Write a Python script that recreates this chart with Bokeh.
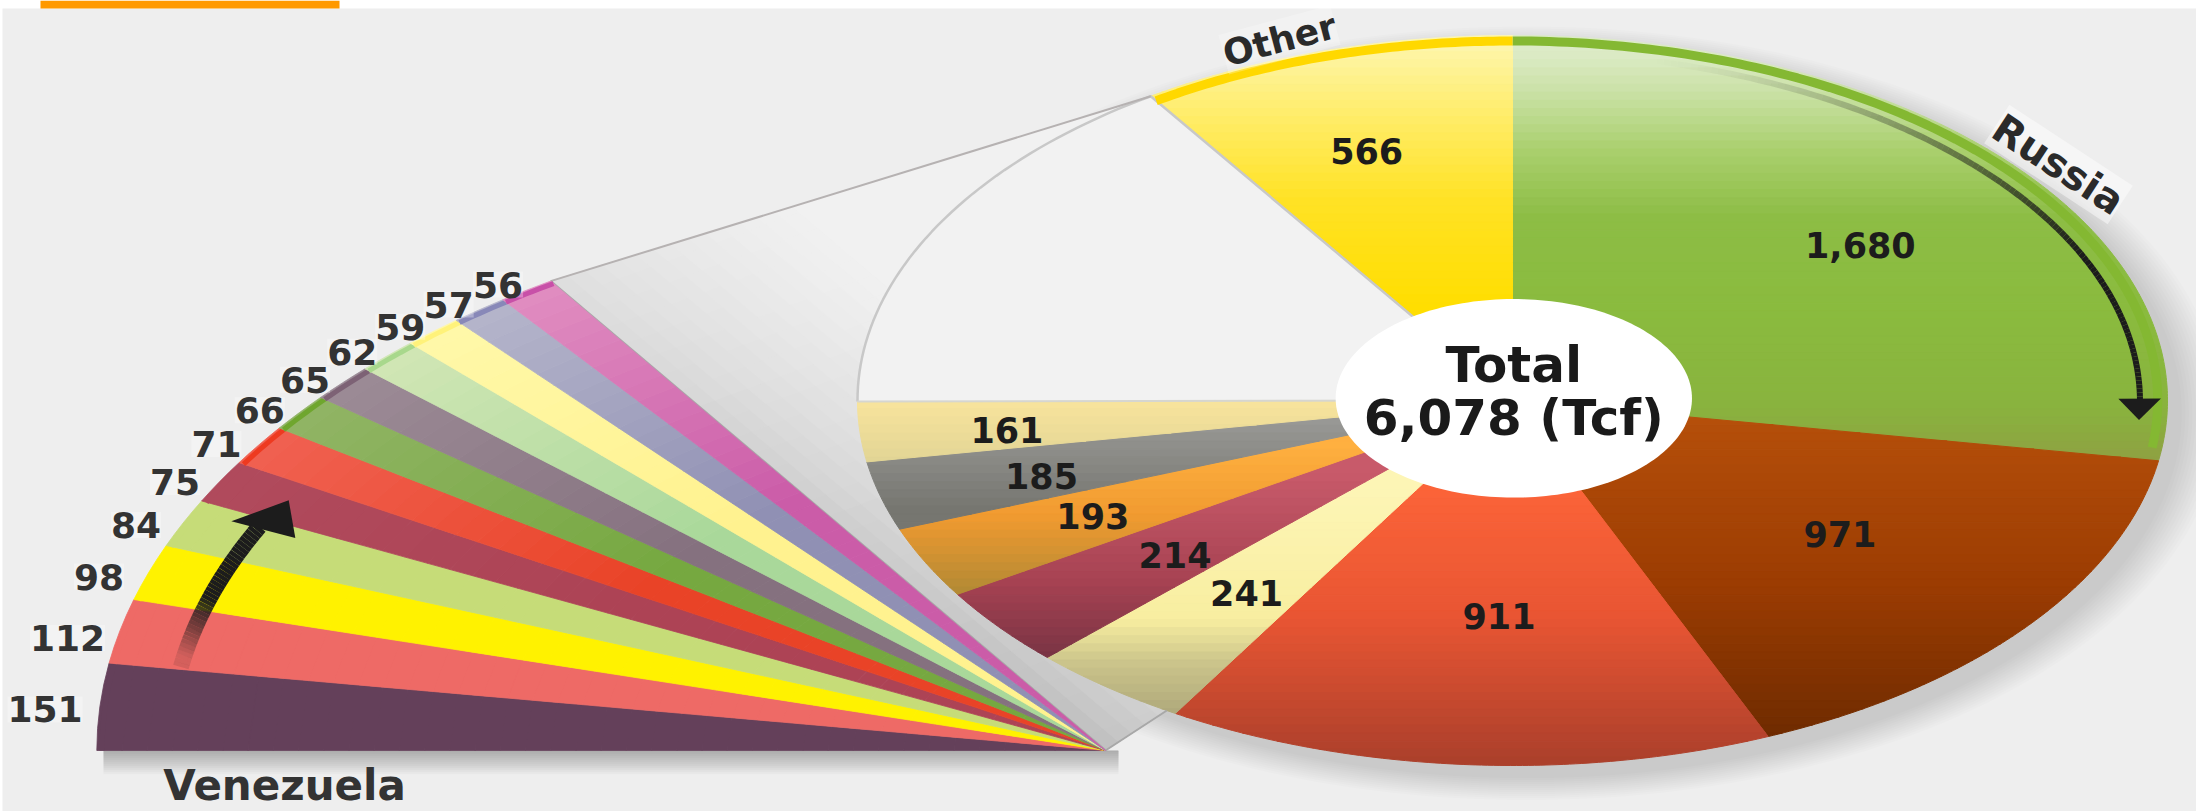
import numpy as np
from bokeh.plotting import figure
from bokeh.models import Range1d
from bokeh.core.properties import value
from bokeh.embed import file_html
from bokeh.resources import INLINE

# ---- data -------------------------------------------------------------
pie_names = ["Russia", "Iran", "Qatar", "Saudi Arabia", "UAE", "USA", "Nigeria", "Algeria", "Next twelve", "Other"]
pie_values = [1680, 971, 911, 241, 214, 193, 185, 161, 956, 566]
fan_values = [151, 112, 98, 84, 75, 71, 66, 65, 62, 59, 57, 56]
total_label = ["Total", "6,078 (Tcf)"]

# ---- styles -----------------------------------------------------------
pie_stops = [
    [(0.95, "#dcebc6"), (0.85, "#cbe2a8"), (0.68, "#a9cf6c"), (0.5, "#8dbd45"), (0.25, "#8abb3e"), (-0.02, "#89b33e"), (-0.18, "#8f9f42")],
    [(-0.05, "#b54f0a"), (-0.5, "#9c3c02"), (-0.95, "#6c2a00")],
    [(-0.25, "#fb6338"), (-0.6, "#e85533"), (-1.0, "#aa3f2b")],
    [(-0.25, "#fdf5b5"), (-0.6, "#f8eea0"), (-0.72, "#cbc48b"), (-0.88, "#aba578")],
    [(-0.2, "#c85a6a"), (-0.5, "#a64252"), (-0.7, "#7a3444")],
    [(-0.12, "#ffb040"), (-0.32, "#f09a30"), (-0.52, "#b48a34")],
    [(-0.05, "#999996"), (-0.3, "#767670")],
    [(0.0, "#f9e49c"), (-0.18, "#e0d494")],
    None,
    [(1.0, "#fdf6b4"), (0.8, "#ffee70"), (0.55, "#ffe225"), (0.25, "#ffde00")],
]
pie_label_r = [0.68, 0.62, 0.59, 0.665, 0.667, 0.715, 0.748, 0.776, None, 0.718]
pie_label_da = [1.6, -2.0, -2.0, -0.5, -1.0, 0.0, -0.8, -1.0, 0.0, -1.3]
fan_base = ["#64405a", "#ee6a66", "#fff200", "#c6dc78", "#ad4355", "#e94327",
            "#76a840", "#85717f", "#a9d89a", "#fff28f", "#9090b4", "#cb5ca8"]
fan_outer = ["#64405a", "#ee6a66", "#fff200", "#c6dc78", "#b04a5c", "#f06050",
             "#90b464", "#9b8a95", "#d0e6b4", "#fff8a8", "#b4b4ca", "#e08cc0"]
fan_rim = ["#64405a", "#ee6a66", "#fff200", "#c6dc78", "#b04a5c", "#ee3a20",
           "#6fa62e", "#7d6275", "#a8d88c", "#fff27a", "#8888b8", "#c850a8"]
BG = "#eeeeee"
FONT = value("DejaVu Sans")

# ---- geometry helpers ---------------------------------------------------
W, H = 2196, 811
CX, CY, RX, RY = 1512.0, 400.0, 655.0, 365.0
TOTAL = sum(pie_values)
APEX = ((1105 - CX) / RX, (CY - 750) / RY)
FAN_R = 1.54


def hex2rgb(c):
    return np.array([int(c[i:i + 2], 16) for i in (1, 3, 5)], float)


def mix(a, b, t):
    m = hex2rgb(a) * (1 - t) + hex2rgb(b) * t
    return "#%02x%02x%02x" % tuple(int(round(v)) for v in m)


def grad(stops, y):
    if y >= stops[0][0]:
        return stops[0][1]
    for (y0, c0), (y1, c1) in zip(stops, stops[1:]):
        if y >= y1:
            return mix(c0, c1, (y0 - y) / (y0 - y1))
    return stops[-1][1]


def pt(deg, r=1.0):
    a = np.radians(deg)
    return r * np.sin(a), r * np.cos(a)


def fan_pt(deg, r):
    a = np.radians(deg)
    return APEX[0] - r * np.cos(a), APEX[1] + r * np.sin(a)


def clip(poly, nx, ny, d):
    """keep the part of poly where nx*x+ny*y >= d"""
    out = []
    n = len(poly)
    for i in range(n):
        p, q = poly[i], poly[(i + 1) % n]
        dp = nx * p[0] + ny * p[1] - d
        dq = nx * q[0] + ny * q[1] - d
        if dp >= 0:
            out.append(p)
        if dp * dq < 0:
            t = dp / (dp - dq)
            out.append((p[0] + t * (q[0] - p[0]), p[1] + t * (q[1] - p[1])))
    return out


p = figure(width=W, height=H, output_backend="svg", toolbar_location=None,
           x_range=Range1d(-CX / RX, (W - CX) / RX), y_range=Range1d((CY - H) / RY, CY / RY),
           min_border=0, margin=(0, 0, 0, 0), background_fill_color="white",
           border_fill_color="white", outline_line_color=None)
p.axis.visible = False
p.grid.visible = False

xl, xr = -CX / RX, (W - CX) / RX
yt, yb = CY / RY, (CY - H) / RY
# page background and the orange tab above it
p.quad(left=[xl + 2 / RX], right=[xr], top=[CY / RY - 8 / RY], bottom=[yb], color=BG, line_color=None)
p.quad(left=[xl + 40 / RX], right=[xl + 339 / RX], top=[yt], bottom=[yt - 8 / RY], color="#ff9900", line_color=None)

# cumulated angles
cum = np.concatenate([[0], np.cumsum(pie_values)]) * 360.0 / TOTAL
fcum = np.concatenate([[0], np.cumsum(fan_values)]) * 360.0 / TOTAL
empty = pie_values.index(956)
a_empty0, a_empty1 = cum[empty], cum[empty + 1]

# soft shadows
for i, r in enumerate(np.linspace(1.06, 1.0, 12)):
    t = np.linspace(0, 2 * np.pi, 240)
    p.patch(0.022 + r * np.sin(t), -0.035 + r * np.cos(t), color="#000000", alpha=0.012, line_color=None)
fan_left = fan_pt(0, FAN_R)[0]
for i, h in enumerate(np.linspace(0.065, 0.005, 12)):
    p.quad(left=[fan_left + 0.01], right=[APEX[0] + 0.02], top=[APEX[1]], bottom=[APEX[1] - h],
           color="#000000", alpha=0.024, line_color=None)

# connector between the empty sector and the fan: gradient across the fan's edge, darker toward the apex
ftop = fan_pt(fcum[-1], FAN_R)
low_pt = pt(a_empty0 - 58)
conn = [APEX, ftop, pt(a_empty1), low_pt]
ex, ey = ftop[0] - APEX[0], ftop[1] - APEX[1]
ln = np.hypot(ex, ey)
ux, uy = ex / ln, ey / ln
nx, ny = uy, -ux
base_n = nx * APEX[0] + ny * APEX[1]
base_u = ux * APEX[0] + uy * APEX[1]
du = np.linspace(0, ln, 31)
dn = np.linspace(0, 0.42, 15)
for u0, u1 in zip(du, du[1:]):
    strip = clip(clip(conn, ux, uy, base_u + u0), -ux, -uy, -(base_u + u1))
    if len(strip) < 3:
        continue
    for d0, d1 in zip(dn, dn[1:]):
        poly = clip(clip(strip, nx, ny, base_n + d0), -nx, -ny, -(base_n + d1))
        if len(poly) >= 3:
            edge = mix("#bcbcbc", "#dedede", (u0 + u1) / 2 / ln)
            col = mix(edge, "#f1f1f1", min(1.0, ((d0 + d1) / 2) / 0.42) ** 0.8)
            p.patch([q[0] for q in poly], [q[1] for q in poly], color=col, line_color=col, line_width=1)
beyond = clip(conn, nx, ny, base_n + 0.42)
p.patch([q[0] for q in beyond], [q[1] for q in beyond], color="#f1f1f1", line_color=None)

# pie sectors as vertical gradients
bands = np.linspace(1.0, -1.0, 91)
for i, v in enumerate(pie_values):
    ang = np.linspace(cum[i], cum[i + 1], max(3, int(cum[i + 1] - cum[i]) * 2))
    wedge = [(0.0, 0.0)] + [pt(a) for a in ang]
    stops = pie_stops[i]
    if stops is None:
        p.patch([q[0] for q in wedge], [q[1] for q in wedge], color="#f2f2f2", line_color=None)
        continue
    xs, ys, cs = [], [], []
    for y0, y1 in zip(bands, bands[1:]):
        poly = clip(clip(wedge, 0, -1, -y0), 0, 1, y1)
        if len(poly) >= 3:
            xs.append([q[0] for q in poly])
            ys.append([q[1] for q in poly])
            cs.append(grad(stops, (y0 + y1) / 2))
    p.patches(xs, ys, color=cs, line_color=cs, line_width=1)

# outline of the empty sector
ang = np.linspace(a_empty0, a_empty1, 50)
ox = [pt(a)[0] for a in ang] + [0.0]
oy = [pt(a)[1] for a in ang] + [0.0]
p.line(ox, oy, line_color="#c8c8c8", line_width=2.5)
p.line([pt(a_empty0)[0], 0], [pt(a_empty0)[1], 0], line_color="#d6d6d0", line_width=2)
# connector edges
p.line([ftop[0], pt(a_empty1)[0]], [ftop[1], pt(a_empty1)[1]], line_color="#b6b2b2", line_width=2)
p.line([APEX[0], ftop[0]], [APEX[1], ftop[1]], line_color="#a8a8a8", line_width=2.5)
p.line([APEX[0], low_pt[0]], [APEX[1], low_pt[1]], line_color="#a8a8a8", line_width=2)

# coloured rims
ang = np.linspace(cum[0], cum[1] - 2, 120)
p.line([pt(a, 0.985)[0] for a in ang], [pt(a, 0.985)[1] for a in ang], line_color="#84b832", line_width=9)
ang = np.linspace(cum[-2], cum[-1], 60)
p.line([pt(a, 0.985)[0] for a in ang], [pt(a, 0.985)[1] for a in ang], line_color="#ffd800", line_width=9)

# fan slices: radial tint toward the rim
radii = np.linspace(0.0, FAN_R, 41)
for i, v in enumerate(fan_values):
    ang = np.linspace(fcum[i], fcum[i + 1], 5)
    xs, ys, cs = [], [], []
    for r0, r1 in zip(radii, radii[1:]):
        a = fan_pt(ang[0], r0), *[fan_pt(t, r1) for t in ang], fan_pt(ang[-1], r0)
        xs.append([q[0] for q in a])
        ys.append([q[1] for q in a])
        t = np.clip((r1 - 0.85) / (FAN_R - 0.85), 0, 1)
        cs.append(mix(fan_base[i], fan_outer[i], t))
    p.patches(xs, ys, color=cs, line_color=cs, line_width=0.8)
    arc = np.linspace(fcum[i], fcum[i + 1], 8)
    p.line([fan_pt(t, FAN_R - 0.008)[0] for t in arc], [fan_pt(t, FAN_R - 0.008)[1] for t in arc],
           line_color=fan_rim[i], line_width=5)

# fan arrow
th = np.linspace(9.2, 25.4, 40)
segx = [[fan_pt(a, 1.43)[0], fan_pt(b, 1.43)[0]] for a, b in zip(th, th[1:])]
segy = [[fan_pt(a, 1.43)[1], fan_pt(b, 1.43)[1]] for a, b in zip(th, th[1:])]
alph = [float(np.clip((a - 9.2) / 7.5, 0.12, 1.0)) for a in th[:-1]]
p.multi_line(segx, segy, line_color="#1c1c1c", line_alpha=alph, line_width=16)
head = [fan_pt(25.2, 1.475), fan_pt(25.2, 1.367), fan_pt(28.8, 1.423)]
p.patch([q[0] for q in head], [q[1] for q in head], color="#1c1c1c", line_color=None)

# Russia arrow: a dark line hugging the rim, fading out toward the top
th = np.linspace(12, 90, 120)
rr = np.interp(th, [12, 45, 90], [0.955, 0.955, 0.958])
pts = [pt(a, r) for a, r in zip(th, rr)]
segx = [[a[0], b[0]] for a, b in zip(pts, pts[1:])]
segy = [[a[1], b[1]] for a, b in zip(pts, pts[1:])]
alph = [float(np.clip((a - 12) / 53, 0.0, 1.0) ** 1.5) for a in th[:-1]]
p.multi_line(segx, segy, line_color="#1c1c1c", line_alpha=alph, line_width=6)
head = [pt(89.7, 0.925), pt(89.7, 0.99), pt(93.2, 0.958)]
p.patch([q[0] for q in head], [q[1] for q in head], color="#1c1c1c", line_color=None)

# centre disc
t = np.linspace(0, 2 * np.pi, 200)
p.patch(0.002 + 0.272 * np.cos(t), 0.006 + 0.272 * np.sin(t), color="#ffffff", line_color=None)

# labels
lx, ly, lt = [], [], []
for i, v in enumerate(pie_values):
    if pie_label_r[i] is None:
        continue
    q = pt((cum[i] + cum[i + 1]) / 2 + pie_label_da[i], pie_label_r[i])
    lx.append(q[0]); ly.append(q[1]); lt.append(f"{v:,}")
p.text(lx, ly, text=lt, text_font=FONT, text_font_style="bold", text_font_size=value("35px"),
       text_color="#1c1c1c", text_align="center", text_baseline="middle")

fx, fy, ft = [], [], []
for i, v in enumerate(fan_values):
    a = (fcum[i] + fcum[i + 1]) / 2 - 0.5
    q = fan_pt(a, 1.625 - 0.03 * a / 56)
    fx.append(q[0]); fy.append(q[1] - (0.022 if i else 0.0)); ft.append(str(v))
p.text(fx, fy, text=ft, text_font=FONT, text_font_style="bold", text_font_size=value("36px"),
       text_color="#333333", text_align="center", text_baseline="middle",
       background_fill_color="#ffffff", background_fill_alpha=0.3)

p.text([0.002, 0.002], [(CY - 364) / RY, (CY - 417) / RY], text=total_label, text_font=FONT, text_font_style="bold",
       text_font_size=value("50px"), text_color="#1a1a1a", text_align="center", text_baseline="middle")

p.text([(284 - CX) / RX], [(CY - 785) / RY], text=["Venezuela"], text_font=FONT, text_font_style="bold",
       text_font_size=value("42px"), text_color="#333333", text_align="center", text_baseline="middle")

ru = pt(52.2, 1.055)
ot = pt(340.2, 1.05)
p.text([ru[0]], [ru[1]], text=[pie_names[0]], angle=[-0.58], text_font=FONT, text_font_style="bold",
       text_font_size=value("40px"), text_color="#2a2a2a", text_align="center", text_baseline="middle",
       background_fill_color="#ffffff", background_fill_alpha=0.45)
p.text([ot[0]], [ot[1]], text=[pie_names[-1]], angle=[0.26], text_font=FONT, text_font_style="bold",
       text_font_size=value("36px"), text_color="#2a2a2a", text_align="center", text_baseline="middle",
       background_fill_color="#ffffff", background_fill_alpha=0.25)

open("out.html", "w").write(file_html(p, INLINE))
